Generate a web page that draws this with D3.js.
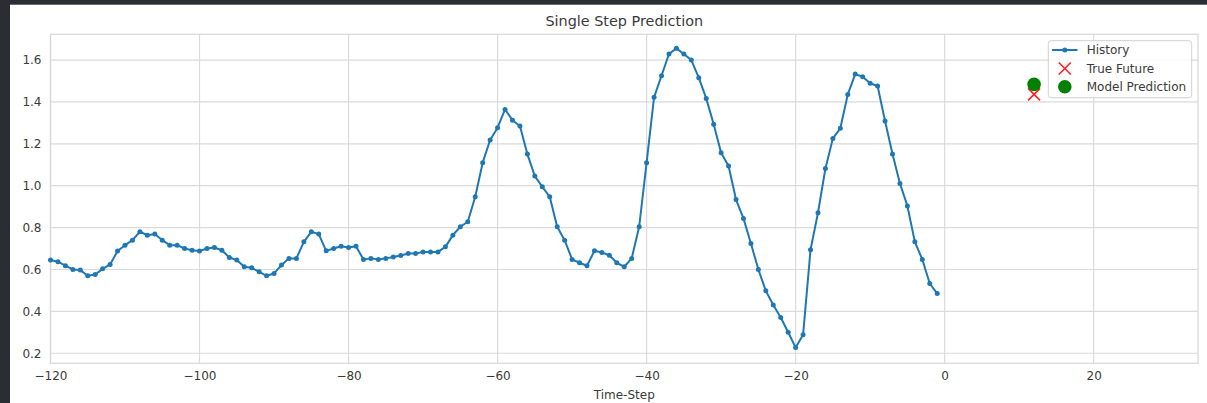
<!DOCTYPE html>
<html>
<head>
<meta charset="utf-8">
<script src="https://cdn.jsdelivr.net/npm/d3@7"></script>
<style>
html,body{margin:0;padding:0;background:#fff;}
svg{display:block;font-family:"DejaVu Sans",sans-serif;}
</style>
</head>
<body>
<svg id="chart" width="1207" height="403"></svg>
<script>
// ---- data ----
const historySteps = d3.range(-120, 0);
const historyValues = [
  0.645,0.637,0.618,0.600,0.597,0.570,0.576,0.603,0.624,0.688,
  0.716,0.740,0.780,0.764,0.769,0.740,0.716,0.716,0.700,0.692,
  0.688,0.700,0.705,0.692,0.657,0.645,0.613,0.608,0.589,0.570,
  0.581,0.621,0.653,0.653,0.732,0.780,0.769,0.689,0.700,0.711,
  0.705,0.711,0.648,0.653,0.648,0.653,0.660,0.667,0.676,0.676,
  0.684,0.684,0.684,0.708,0.764,0.804,0.828,0.947,1.110,1.218,
  1.277,1.364,1.313,1.285,1.151,1.046,0.995,0.947,0.804,0.740,
  0.648,0.632,0.618,0.689,0.681,0.668,0.632,0.613,0.653,0.804,
  1.110,1.422,1.525,1.629,1.656,1.629,1.600,1.516,1.417,1.294,
  1.157,1.094,0.934,0.844,0.724,0.600,0.498,0.430,0.371,0.300,
  0.227,0.288,0.694,0.871,1.082,1.226,1.274,1.436,1.533,1.520,
  1.489,1.476,1.309,1.151,1.011,0.903,0.732,0.648,0.533,0.485
];
const futureStep = [12];
const trueFuture = [1.436];
const modelPrediction = [1.484];
const xTicks = [-120,-100,-80,-60,-40,-20,0,20];
const yTicks = [0.2,0.4,0.6,0.8,1.0,1.2,1.4,1.6];
const xLimits = [-120, 34];
const yLimits = [0.152, 1.723];
const legendLabels = ["History","True Future","Model Prediction"];
const titleText = "Single Step Prediction";
const xLabelText = "Time-Step";

// ---- layout ----
const svg = d3.select("#chart");
const W = 1207, H = 403;
const plot = {left: 50.5, right: 1198, top: 34.3, bottom: 363.3};
const textColor = "#3a3a3a";
const gridColor = "#dadada";

// dark frame strips
svg.append("rect").attr("x",0).attr("y",0).attr("width",W).attr("height",4.7).attr("fill","#2b2d34");
svg.append("rect").attr("x",0).attr("y",0).attr("width",10).attr("height",H).attr("fill","#2b2d34");

const x = d3.scaleLinear().domain(xLimits).range([plot.left, plot.right]);
const y = d3.scaleLinear().domain(yLimits).range([plot.bottom, plot.top]);

// grid
const g = svg.append("g");
g.selectAll("line.vg").data(xTicks).join("line")
  .attr("x1", d=>x(d)).attr("x2", d=>x(d))
  .attr("y1", plot.top).attr("y2", plot.bottom)
  .attr("stroke", gridColor).attr("stroke-width",1.2);
g.selectAll("line.hg").data(yTicks).join("line")
  .attr("y1", d=>y(d)).attr("y2", d=>y(d))
  .attr("x1", plot.left).attr("x2", plot.right)
  .attr("stroke", gridColor).attr("stroke-width",1.2);
// frame
svg.append("rect").attr("x",plot.left).attr("y",plot.top)
  .attr("width",plot.right-plot.left).attr("height",plot.bottom-plot.top)
  .attr("fill","none").attr("stroke","#d6d6d6").attr("stroke-width",1.2);

// axes (no tick marks)
const fmtX = d => (d<0 ? "\u2212"+Math.abs(d) : String(d));
const xAxis = d3.axisBottom(x).tickValues(xTicks).tickFormat(fmtX).tickSize(0).tickPadding(8);
const yAxis = d3.axisLeft(y).tickValues(yTicks).tickFormat(d3.format(".1f")).tickSize(0).tickPadding(9);
const gx = svg.append("g").attr("transform",`translate(0,${plot.bottom})`).call(xAxis);
const gy = svg.append("g").attr("transform",`translate(${plot.left},0)`).call(yAxis);
[gx,gy].forEach(a=>{
  a.select(".domain").remove();
  a.selectAll("text").attr("fill",textColor).style("font-size","12px").style("font-family","DejaVu Sans");
});

// title and label
svg.append("text").attr("x",(plot.left+plot.right)/2).attr("y",26)
  .attr("text-anchor","middle").attr("fill",textColor)
  .style("font-size","14.4px").text(titleText);
svg.append("text").attr("x",(plot.left+plot.right)/2).attr("y",399)
  .attr("text-anchor","middle").attr("fill",textColor)
  .style("font-size","12px").text(xLabelText);

// history line
const blue = "#1f77b4";
const line = d3.line().x((d,i)=>x(historySteps[i])).y(d=>y(d));
svg.append("path").datum(historyValues).attr("d",line)
  .attr("fill","none").attr("stroke",blue).attr("stroke-width",2).attr("stroke-linejoin","round");
svg.selectAll("circle.h").data(historyValues).join("circle")
  .attr("cx",(d,i)=>x(historySteps[i])).attr("cy",d=>y(d)).attr("r",2.5).attr("fill",blue);

// true future (red x)
function cross(sel, cx, cy, s){
  sel.append("path").attr("d",`M${cx-s},${cy-s}L${cx+s},${cy+s}M${cx-s},${cy+s}L${cx+s},${cy-s}`)
    .attr("stroke","#ff2020").attr("stroke-width",1.6).attr("fill","none");
}
trueFuture.forEach((v,i)=>cross(svg, x(futureStep[i]), y(v), 6));
// model prediction (green dot)
svg.selectAll("circle.p").data(modelPrediction).join("circle")
  .attr("cx",(d,i)=>x(futureStep[i])).attr("cy",d=>y(d)).attr("r",6.8).attr("fill","#008000");

// legend
const lg = svg.append("g");
lg.append("rect").attr("x",1048.3).attr("y",40.7).attr("width",143.4).attr("height",57)
  .attr("rx",3).attr("fill","rgba(255,255,255,0.8)").attr("stroke","#d0d0d0").attr("stroke-width",1);
const rowY = [50, 68.5, 86.8];
lg.append("line").attr("x1",1052).attr("x2",1077.5).attr("y1",rowY[0]).attr("y2",rowY[0])
  .attr("stroke",blue).attr("stroke-width",2);
lg.append("circle").attr("cx",1064.8).attr("cy",rowY[0]).attr("r",2.5).attr("fill",blue);
cross(lg, 1064.8, rowY[1], 6);
lg.append("circle").attr("cx",1064.8).attr("cy",rowY[2]).attr("r",6.8).attr("fill","#008000");
lg.selectAll("text").data(legendLabels).join("text")
  .attr("x",1086.7).attr("y",(d,i)=>rowY[i]+4.3)
  .attr("fill",textColor).style("font-size","12px").text(d=>d);
</script>
</body>
</html>
